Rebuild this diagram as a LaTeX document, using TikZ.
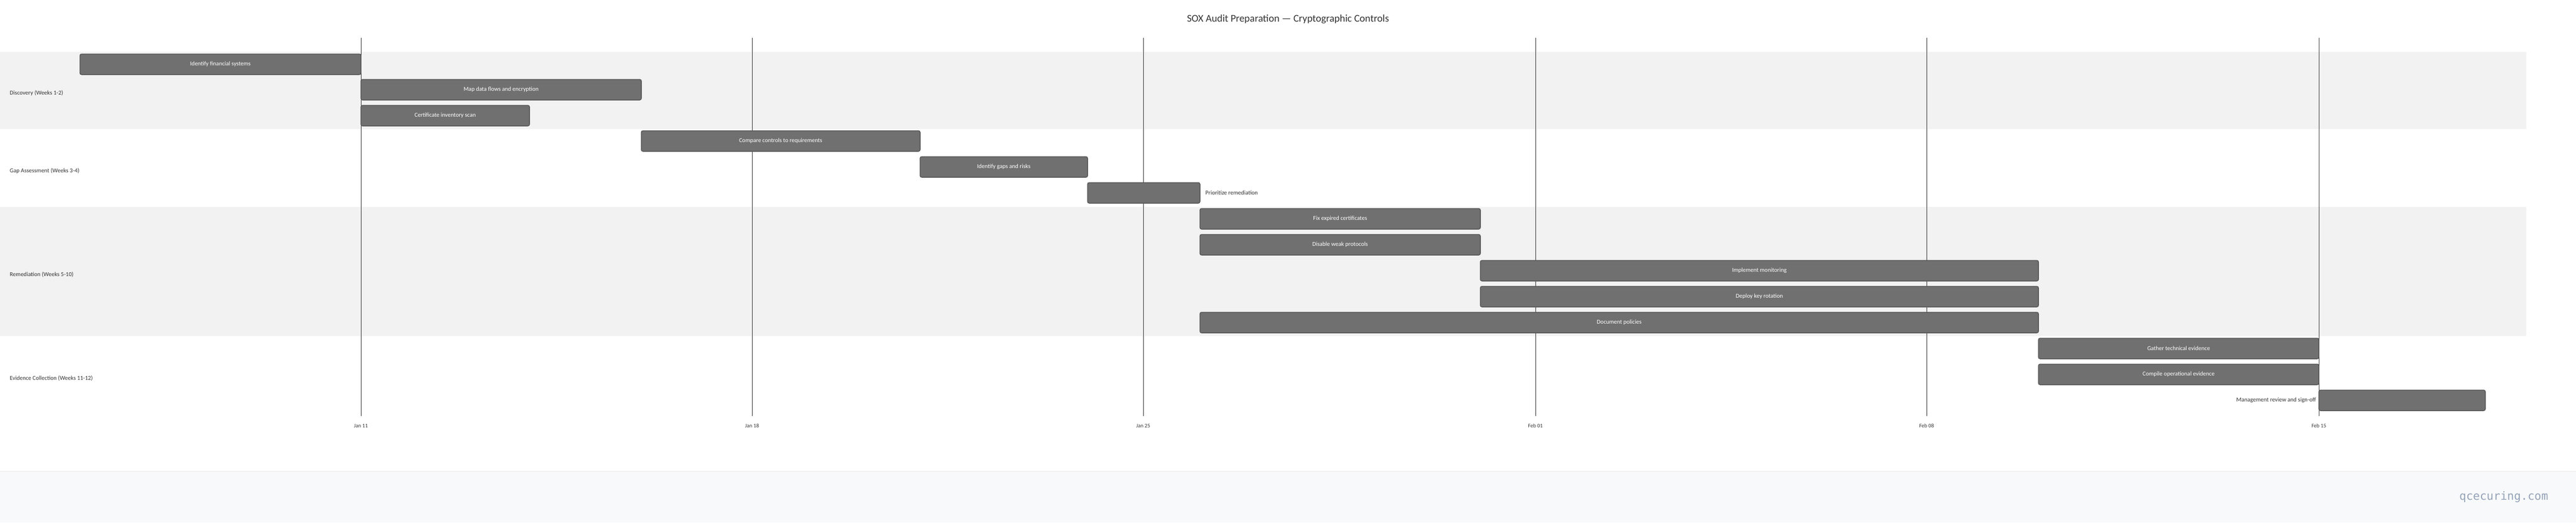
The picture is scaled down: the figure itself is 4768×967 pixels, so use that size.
\documentclass[tikz,border=0pt]{standalone}
\usepackage{fontspec}
\setmainfont{Carlito}
\newfontfamily\monofont{DejaVu Sans Mono}
\usetikzlibrary{positioning}
\begin{document}
\begin{tikzpicture}[
    x=1pt, y=-1pt,
    font=\fontsize{11}{13}\selectfont,
    bar/.style={
    	draw=barborder,
    	fill=barfill,
    	line width=1.5pt,
    	rounded corners=3pt
    }, bartext/.style={
    	text=white, inner sep=0pt
    }, sidetext/.style={
    	text=black!80, inner sep=0pt
    }, grid/.style={
    	draw=black!80,
    	line width=0.6pt
    }]
    \definecolor{barfill}{RGB}{112, 112, 112}
    \definecolor{barborder}{RGB}{88, 88, 88}
    \definecolor{band}{RGB}{242, 242, 242}
    \definecolor{foot}{RGB}{248, 249, 250}
    \definecolor{mark}{RGB}{148, 163, 184}

    \useasboundingbox (0,0) rectangle (4768,967);

    % section bands
    \fill[band] (0,96) rectangle (4676,239);
    \fill[band] (0,383) rectangle (4676,622);
    \fill[foot] (0,872) rectangle (4768,967);
    \draw[black!8] (0,872) -- (4768,872);

    \node[font=\fontsize{19}{22}\selectfont, text=black!80] (title) at (2384,36) {SOX Audit Preparation --- Cryptographic Controls};

    \node[sidetext, anchor=west] (sec1) at (18,172) {Discovery (Weeks 1-2)};
    \node[sidetext, anchor=west] (sec2) at (18,316) {Gap Assessment (Weeks 3-4)};
    \node[sidetext, anchor=west] (sec3) at (18,508) {Remediation (Weeks 5-10)};
    \node[sidetext, anchor=west] (sec4) at (18,700) {Evidence Collection (Weeks 11-12)};

    % week lines
    \foreach \x/\d [count=\i] in {668/Jan 11, 1392/Jan 18, 2116/Jan 25, 2842/Feb 01, 3566/Feb 08, 4292/Feb 15} {
        \draw[grid] (\x,70) -- (\x,770);
        \node[font=\fontsize{10}{12}\selectfont, text=black!80] (tick\i) at (\x,788) {\d};
    }

    % tasks with text inside
    \foreach \a/\b/\y/\t [count=\i] in {
        148/668/119/Identify financial systems,
        668/1187/166/Map data flows and encryption,
        668/980/214/Certificate inventory scan,
        1187/1703/261/Compare controls to requirements,
        1703/2013/309/Identify gaps and risks,
        2221/2740/405/Fix expired certificates,
        2221/2740/453/Disable weak protocols,
        2740/3773/501/Implement monitoring,
        2740/3773/549/Deploy key rotation,
        2221/3773/597/Document policies,
        3773/4292/645/Gather technical evidence,
        3773/4292/693/Compile operational evidence} {
        \draw[bar] (\a,\y-19) rectangle (\b,\y+19);
        \node[bartext] (task\i) at ({(\a+\b)/2},\y) {\t};
    }

    % tasks with text beside
    \draw[bar] (2013,338) rectangle (2221,376);
    \node[sidetext, anchor=west] (prio) at (2231,357) {Prioritize remediation};
    \draw[bar] (4292,722) rectangle (4600,760);
    \node[sidetext, anchor=east] (signoff) at (4287,741) {Management review and sign-off};

    \node[font=\monofont\fontsize{21}{24}\selectfont, text=mark, anchor=east] (mark) at (4720,920) {qcecuring.com};
\end{tikzpicture}
\end{document}
